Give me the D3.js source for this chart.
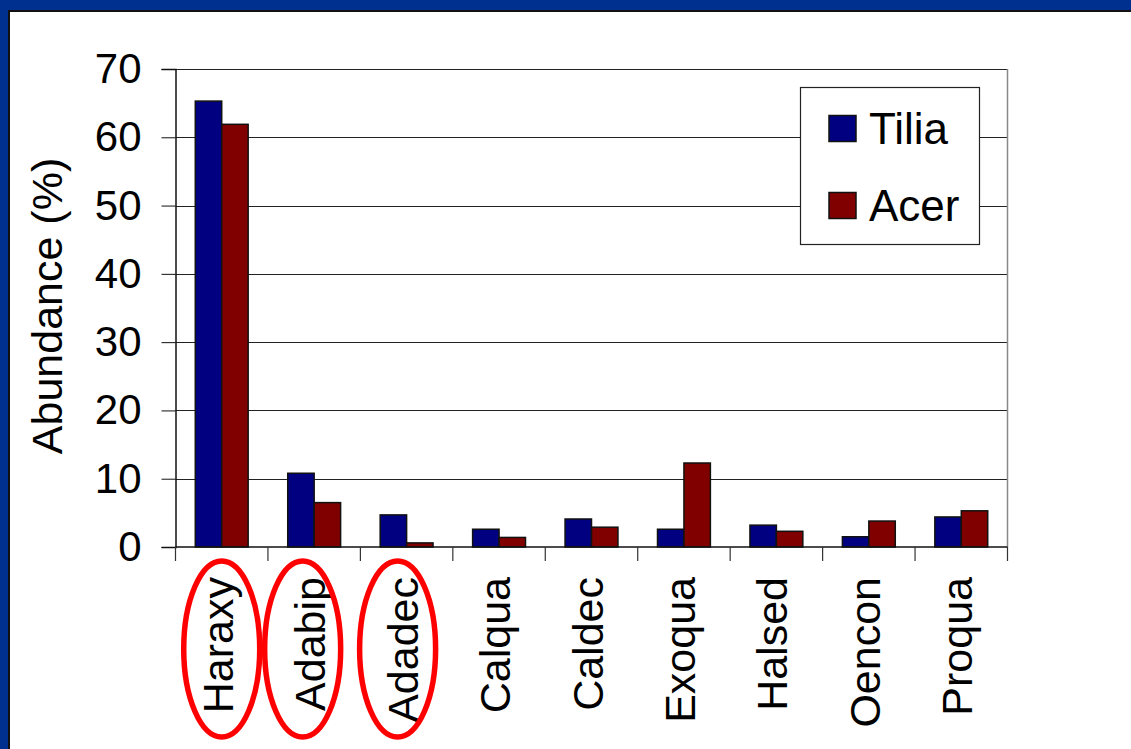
<!DOCTYPE html>
<html>
<head>
<meta charset="utf-8">
<script src="https://cdn.jsdelivr.net/npm/d3@7"></script>
<style>
  html, body { margin: 0; padding: 0; background: #fff; }
  svg { display: block; }
  text { font-family: Arial, "Liberation Sans", sans-serif; fill: #000; }
</style>
</head>
<body>
<svg id="chart" width="1131" height="749"></svg>
<script>
// Species abundance (%) on two host trees
const categories = ["Haraxy", "Adabip", "Adadec", "Calqua", "Caldec", "Exoqua", "Halsed", "Oencon", "Proqua"];
const tiliaValues = [65.3, 10.8, 4.7, 2.6, 4.1, 2.6, 3.2, 1.5, 4.4];
const acerValues  = [61.9, 6.5, 0.6, 1.4, 2.9, 12.3, 2.3, 3.8, 5.3];
const seriesNames = ["Tilia", "Acer"];
const seriesColors = ["#000080", "#800000"];
const yTicks = [0, 10, 20, 30, 40, 50, 60, 70];
const highlighted = ["Haraxy", "Adabip", "Adadec"];
const highlightShift = [0, -11.5, -9];

const svg = d3.select("#chart");
const W = 1131, H = 749;

// slide frame
svg.append("rect").attr("x", 0).attr("y", 0).attr("width", W).attr("height", H).attr("fill", "#fff");
svg.append("rect").attr("x", 0).attr("y", 0).attr("width", W).attr("height", 10).attr("fill", "#00308f");
svg.append("rect").attr("x", 0).attr("y", 0).attr("width", 8).attr("height", H).attr("fill", "#00308f");
svg.append("line").attr("x1", 8).attr("x2", W).attr("y1", 11).attr("y2", 11).attr("stroke", "#111").attr("stroke-width", 2);
svg.append("line").attr("x1", 9).attr("x2", 9).attr("y1", 10).attr("y2", H).attr("stroke", "#111").attr("stroke-width", 2);

const plot = { left: 175.5, right: 1007.5, top: 69, bottom: 547 };

const x = d3.scaleBand().domain(categories).range([plot.left, plot.right]).paddingInner(0).paddingOuter(0);
const y = d3.scaleLinear().domain([0, 70]).range([plot.bottom, plot.top]);
const bw = x.bandwidth();
const barW = bw * 0.286;
const groupOffset = bw * 0.214;

// gridlines
svg.append("g").selectAll("line").data(yTicks.filter(d => d > 0)).join("line")
  .attr("x1", plot.left).attr("x2", plot.right)
  .attr("y1", d => Math.round(y(d)) + 0.5).attr("y2", d => Math.round(y(d)) + 0.5)
  .attr("stroke", "#222").attr("stroke-width", 1);

// right edge of plot area
svg.append("line").attr("x1", plot.right).attr("x2", plot.right)
  .attr("y1", plot.top).attr("y2", plot.bottom).attr("stroke", "#888").attr("stroke-width", 1.5);

// bars
const rows = categories.map((c, i) => ({ cat: c, vals: [tiliaValues[i], acerValues[i]] }));
const groups = svg.append("g").selectAll("g").data(rows).join("g")
  .attr("transform", d => `translate(${x(d.cat) + groupOffset},0)`);
groups.selectAll("rect").data(d => d.vals.map((v, j) => ({ v, j }))).join("rect")
  .attr("x", d => d.j * barW)
  .attr("y", d => y(d.v))
  .attr("width", barW)
  .attr("height", d => y(0) - y(d.v))
  .attr("fill", d => seriesColors[d.j])
  .attr("stroke", "#111").attr("stroke-width", 1.5);

// y axis
const yAxis = d3.axisLeft(y).tickValues(yTicks).tickSize(14).tickPadding(20).tickFormat(d3.format("d"));
const gy = svg.append("g").attr("transform", `translate(${plot.left},0)`).call(yAxis);
gy.select(".domain").attr("stroke", "#111").attr("stroke-width", 1.5);
gy.selectAll(".tick line").attr("stroke", "#111");
gy.selectAll(".tick text").attr("font-size", 42).attr("fill", "#000")
  .attr("font-family", "Arial, 'Liberation Sans', sans-serif");

// x axis baseline and category dividers
svg.append("line").attr("x1", plot.left).attr("x2", plot.right)
  .attr("y1", plot.bottom).attr("y2", plot.bottom).attr("stroke", "#111").attr("stroke-width", 1.5);
const dividers = categories.map(c => x(c)).concat([plot.right]);
svg.append("g").selectAll("line").data(dividers).join("line")
  .attr("x1", d => d).attr("x2", d => d)
  .attr("y1", plot.bottom).attr("y2", plot.bottom + 14)
  .attr("stroke", "#333").attr("stroke-width", 1.2);

// category labels, rotated
svg.append("g").selectAll("text").data(categories).join("text")
  .attr("transform", d => `translate(${x(d) + bw / 2 + 11},577) rotate(-90)`)
  .attr("text-anchor", "end")
  .attr("font-size", 43)
  .text(d => d);

// y axis title
svg.append("text")
  .attr("transform", "translate(62,306) rotate(-90)")
  .attr("text-anchor", "middle")
  .attr("font-size", 43)
  .text("Abundance (%)");

// legend
const lg = svg.append("g");
lg.append("rect").attr("x", 800.5).attr("y", 87.5).attr("width", 179).attr("height", 157)
  .attr("fill", "#fff").attr("stroke", "#222").attr("stroke-width", 1.2);
seriesNames.forEach((name, i) => {
  const cy = 128.5 + i * 77;
  lg.append("rect").attr("x", 829).attr("y", cy - 13).attr("width", 27).attr("height", 26)
    .attr("fill", seriesColors[i]).attr("stroke", "#111").attr("stroke-width", 1.5);
  lg.append("text").attr("x", 869).attr("y", cy + 15).attr("font-size", 44).text(name);
});

// red rings around the first three categories
svg.append("g").selectAll("ellipse").data(highlighted).join("ellipse")
  .attr("cx", (d, i) => x(d) + bw / 2 + highlightShift[i])
  .attr("cy", 649)
  .attr("rx", 38)
  .attr("ry", 88)
  .attr("fill", "none")
  .attr("stroke", "#ff0000")
  .attr("stroke-width", 5.5);
</script>
</body>
</html>
